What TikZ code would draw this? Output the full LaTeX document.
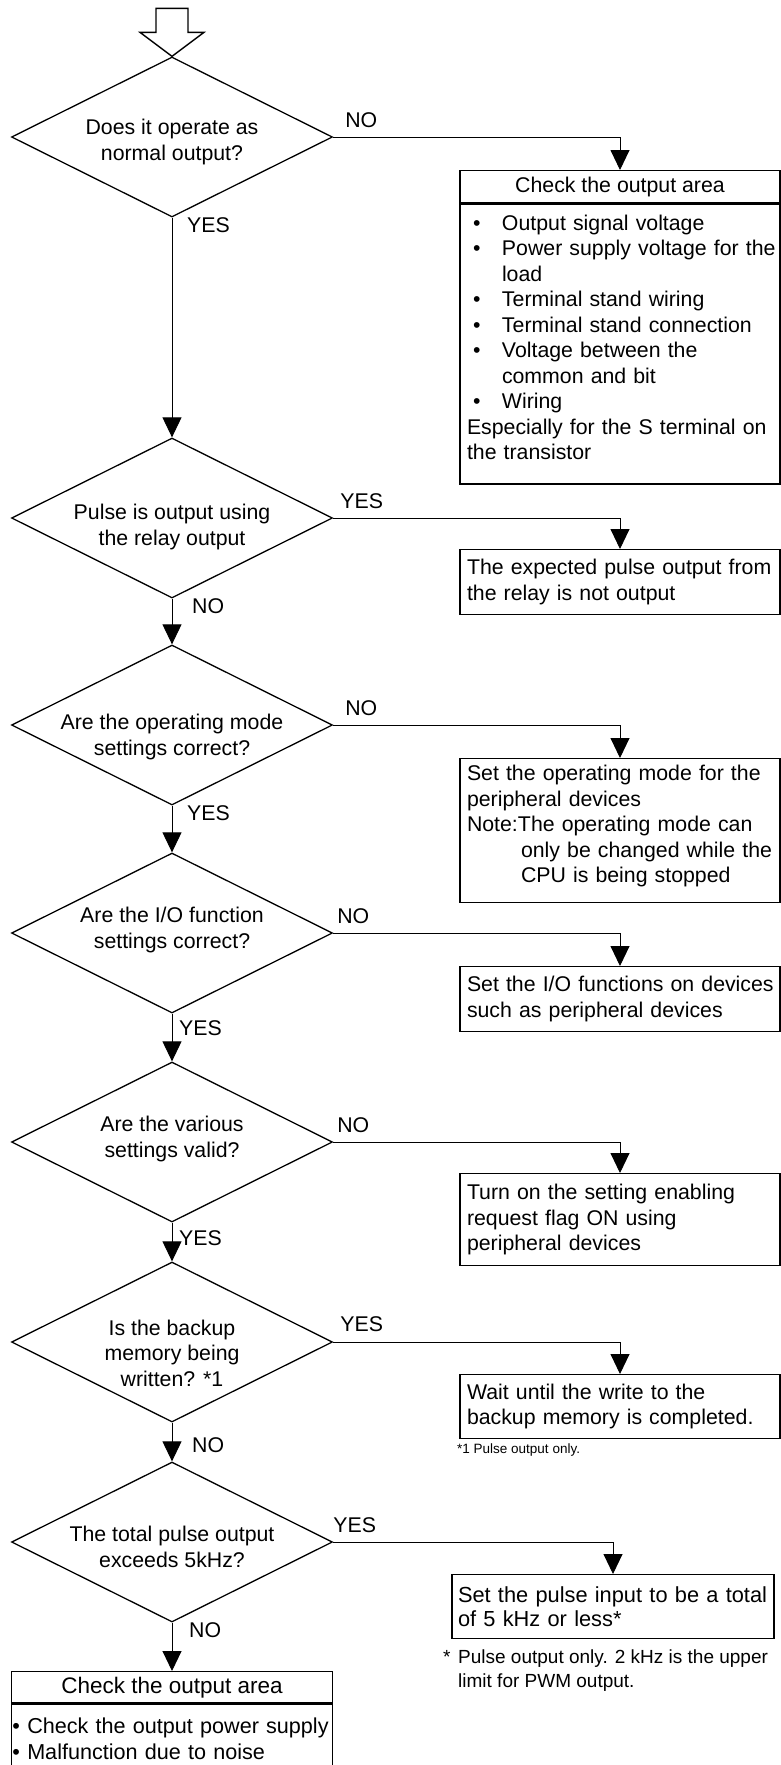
\documentclass[tikz,border=0pt]{standalone}
\usepackage{fontspec}
\setmainfont{Liberation Sans}
\usetikzlibrary{shapes.geometric,positioning,arrows.meta}
\newcommand{\bul}{\makebox[35pt][l]{\hspace{6pt}\textbullet}}
\tikzset{
  txt/.style={font=\fontsize{21.3}{25.5}\selectfont},
  decision/.style={draw,line width=1.3pt,diamond,aspect=2,inner sep=0pt,
    minimum width=321pt,minimum height=160pt},
  question/.style={txt,inner sep=0pt,align=center},
  stepbox/.style={txt,draw,line width=1.4pt,minimum width=320pt,text width=306pt,
    inner xsep=7pt,inner ysep=0pt,align=left,anchor=north},
  headbox/.style={txt,draw,line width=1.4pt,minimum width=320pt,minimum height=32pt,
    inner sep=0pt,anchor=north},
  flow/.style={line width=0.9pt,-{Triangle[length=20pt,width=19pt]}},
  lbl/.style={txt,inner sep=0pt},
  fnote/.style={inner sep=0pt,align=left}
}
\begin{document}
\begin{tikzpicture}[x=1pt,y=-1pt]
\clip (0,0) rectangle (781,1765);

\node[decision] (d1) at (172,137) {};
\node[decision] (d2) at (172,518) {};
\node[decision] (d3) at (172,725) {};
\node[decision] (d4) at (172,933) {};
\node[decision] (d5) at (172,1142) {};
\node[decision] (d6) at (172,1342) {};
\node[decision] (d7) at (172,1542) {};
\node[question] (q1) at ([yshift=-5pt]d1) {Does it operate as\\normal output?};
\node[question] (q2) at ([yshift=-9pt]d2) {Pulse is output using\\the relay output};
\node[question] (q3) at ([yshift=-12pt]d3) {Are the operating mode\\settings correct?};
\node[question] (q4) at ([yshift=3pt]d4) {Are the I/O function\\settings correct?};
\node[question] (q5) at ([yshift=3pt]d5) {Are the various\\settings valid?};
\node[question] (q6) at ([yshift=-11pt]d6) {Is the backup\\memory being\\written? *1};
\node[question] (q7) at ([yshift=-5pt]d7) {The total pulse output\\exceeds 5kHz?};

% start arrow
\draw[line width=1.4pt] (d1.north) -- ++(-32,-24) -- ++(16,0) -- ++(0,-24)
  -- ++(32,0) -- ++(0,24) -- ++(16,0) -- cycle;

\node[headbox] (b1h) at (620,170) {Check the output area};
\node[stepbox,minimum height=280pt,below=0pt of b1h] (b1) {\bul Output signal voltage\\
  \bul\mbox{Power supply voltage for the}\\\hspace*{35pt}load\\
  \bul Terminal stand wiring\\
  \bul Terminal stand connection\\
  \bul Voltage between the\\\hspace*{35pt}common and bit\\
  \bul Wiring\\
  \mbox{Especially for the S terminal on}\\the transistor\\[-12pt]\mbox{}};
\node[stepbox,minimum height=65pt] (b2) at (620,549) {\mbox{The expected pulse output from}\\the relay is not output};
\node[stepbox,minimum height=144pt] (b3) at (620,758) {\mbox{Set the operating mode for the}\\peripheral devices\\
  \makebox[51pt][l]{Note:}The operating mode can\\\hspace*{54pt}\mbox{only be changed while the}\\
  \hspace*{54pt}CPU is being stopped\\[-12pt]\mbox{}};
\node[stepbox,minimum height=65pt] (b4) at (620,966) {\mbox{Set the I/O functions on devices}\\such as peripheral devices};
\node[stepbox,minimum height=92pt] (b5) at (620,1173) {Turn on the setting enabling\\request flag ON using\\peripheral devices};
\node[stepbox,minimum height=64pt] (b6) at (620,1374) {Wait until the write to the\\\mbox{backup memory is completed.}};
\node[stepbox,font=\fontsize{21.8}{24.5}\selectfont,minimum height=64pt,minimum width=322pt,text width=310pt,
  inner xsep=6pt] (b7) at (613,1574) {\mbox{Set the pulse input to be a total}\\of 5 kHz or less*};
\node[headbox,font=\fontsize{22.5}{27}\selectfont,minimum width=321pt,minimum height=31pt] (b8h) at (172,1671)
  {Check the output area};
\node[stepbox,font=\fontsize{21.6}{26}\selectfont,minimum width=321pt,text width=319pt,inner xsep=1pt,
  inner ysep=14pt,below=0pt of b8h] (b8)
  {\textbullet{} \mbox{Check the output power supply}\\\textbullet{} Malfunction due to noise\\\mbox{}\\\mbox{}};

\node[fnote,font=\fontsize{13.5}{17}\selectfont,anchor=west] (fn1) at (457,1450) {*1 Pulse output only.};
\node[fnote,font=\fontsize{19}{24}\selectfont,anchor=north west] (fn2) at (443,1650)
  {\makebox[15pt][l]{*}Pulse output only. 2 kHz is the upper\\\hspace*{15pt}limit for PWM output.};

\foreach \a/\b in {d1/d2,d2/d3,d3/d4,d4/d5,d5/d6,d6/d7,d7/b8h}
  \draw[flow] (\a.south) -- (\b.north);
\foreach \a/\b in {d1/b1h,d2/b2,d3/b3,d4/b4,d5/b5,d6/b6,d7/b7}
  \draw[flow] (\a.east) -| (\b.north);

\node[lbl,above right=9pt and 12pt of d1.east] (n1) {NO};
\node[lbl,above right=9pt and 7pt of d2.east] (y2) {YES};
\node[lbl,above right=9pt and 12pt of d3.east] (n3) {NO};
\node[lbl,above right=9pt and 4pt of d4.east] (n4) {NO};
\node[lbl,above right=9pt and 4pt of d5.east] (n5) {NO};
\node[lbl,above right=10pt and 7pt of d6.east] (y6) {YES};
\node[lbl,above right=9pt and 0pt of d7.east] (y7) {YES};
\node[lbl,below right=0pt and 15pt of d1.south] (y1) {YES};
\node[lbl,below right=0pt and 20pt of d2.south] (n2) {NO};
\node[lbl,below right=0pt and 15pt of d3.south] (y3) {YES};
\node[lbl,below right=7pt and 7pt of d4.south] (y4) {YES};
\node[lbl,below right=8pt and 7pt of d5.south] (y5) {YES};
\node[lbl,below right=15pt and 20pt of d6.south] (n6) {NO};
\node[lbl,below right=0pt and 17pt of d7.south] (n7) {NO};
\end{tikzpicture}
\end{document}
